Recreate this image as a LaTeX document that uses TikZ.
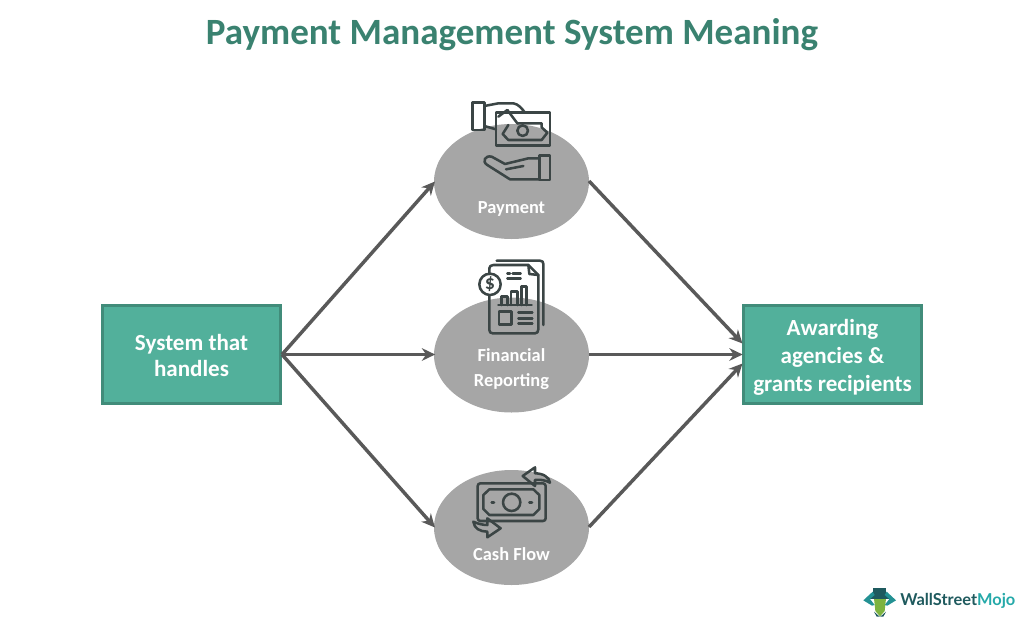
\documentclass[tikz,border=0pt]{standalone}
\usepackage{fontspec}
\setmainfont{Carlito}
\newfontfamily\logofont{Lato}
\usetikzlibrary{shapes.geometric,arrows.meta}
\definecolor{titlecol}{HTML}{3A8270}
\definecolor{boxfill}{HTML}{52B09B}
\definecolor{boxline}{HTML}{418C7A}
\definecolor{ellcol}{HTML}{A6A6A6}
\definecolor{arrowcol}{HTML}{595959}
\definecolor{iconcol}{HTML}{3B4545}
\definecolor{logodark}{HTML}{1F5A5E}
\definecolor{logoteal}{HTML}{25A9A9}
\definecolor{logogreen}{HTML}{7DB33F}
\newcommand{\lowered}[2]{\raisebox{-#1}[0pt][0pt]{\begin{tabular}{@{}c@{}}#2\end{tabular}}}
\tikzset{
 flowbox/.style={draw=boxline,line width=2.25pt,fill=boxfill,minimum width=133.5pt,minimum height=73.5pt,inner sep=0pt,align=center,text=white},
 flowtext/.style={font=\fontsize{17.3}{#1}\selectfont\bfseries},
 oval/.style={ellipse,fill=ellcol,minimum width=116.25pt,minimum height=86.25pt,inner sep=0pt},
 ovaltext/.style={text=white,font=\fontsize{13.8}{19}\selectfont\bfseries,align=center,inner sep=0pt},
 flow/.style={draw=arrowcol,line width=2.6pt,-{Stealth[length=10pt,width=9.5pt]},shorten >=-0.5pt},
 icon/.style={draw=iconcol,line width=1.9pt,line join=round,line cap=round},
}
\begin{document}
\begin{tikzpicture}[x=.75pt,y=-.75pt]
\useasboundingbox (0,0) rectangle (1024,625);
\node[text=titlecol,font=\fontsize{27.8}{30}\selectfont\bfseries,inner sep=0pt] (title) at (512,34.5) {Payment Management System Meaning};
\node[oval] (pay) at (511.5,181.5) {};
\node[oval] (fin) at (511.5,355) {};
\node[oval] (cash) at (511.5,527.5) {};
\node[flowbox,flowtext=19.6] (src) at (191.5,354.5) {\lowered{7.2pt}{System that\\handles}};
\node[flowbox,flowtext=21] (dst) at (832.5,354.5) {\lowered{7pt}{Awarding\\agencies \&\\grants recipients}};
\coordinate (dsttop) at (742,343);
\coordinate (dstmid) at (742,354.5);
\coordinate (dstbot) at (742,364);
\coordinate (payin) at (434.5,182);
\coordinate (finin) at (434.5,354.5);
\coordinate (cashin) at (434.5,527);
\coordinate (payout) at (589,181);
\coordinate (finout) at (589,354.5);
\coordinate (cashout) at (589,527);
\draw[flow] (src.east) -- (payin);
\draw[flow] (src.east) -- (finin);
\draw[flow] (src.east) -- (cashin);
\draw[flow] (payout) -- (dsttop);
\draw[flow] (finout) -- (dstmid);
\draw[flow] (cashout) -- (dstbot);
\node[ovaltext] (paylab) at (511.5,208.5) {Payment};
\node[ovaltext] (finlab) at (511.5,369) {Financial\\Reporting};
\node[ovaltext] (cashlab) at (511.5,554.5) {Cash Flow};
% payment icon
\begin{scope}[shift={(430,90)},x=.25pt,y=-.25pt,icon]
\draw (128,38) rectangle (163,120);
\draw (163,48) -- (205,40) -- (250,40) .. controls (265,42) and (275,55) .. (285,68);
\draw (163,108) -- (198,118);
\draw (232,60) -- (262,100);
\draw (205,80) -- (232,60);
\draw (198,68) rectangle (360,167);
\draw (262,100) -- (335,100) -- (335,112) -- (352,128) -- (335,150) -- (235,150) -- (218,132) -- (235,105);
\draw (278,122) circle (16);
\draw (328,197) rectangle (360,270);
\draw (328,205) -- (295,205) -- (225,222) -- (185,200) .. controls (165,195) and (155,215) .. (172,225) -- (240,268) -- (328,268);
\draw (228,238) -- (280,228);
\end{scope}
% report icon
\begin{scope}[shift={(430,250)},x=.25pt,y=-.25pt,icon]
\draw (200,32) -- (330,32) .. controls (337,32) and (340,36) .. (340,42) -- (340,225);
\draw (178,72) -- (178,55) .. controls (178,49) and (183,45) .. (190,45) -- (295,45) -- (325,75) -- (325,238) .. controls (325,246) and (321,250) .. (315,250) -- (188,250) .. controls (182,250) and (178,246) .. (178,240) -- (178,137);
\draw (295,45) -- (298,72) -- (325,75);
\draw (180,103) circle (32);
\node[text=iconcol,font=\fontsize{15}{15}\selectfont\bfseries,inner sep=0pt] (dollar) at (180,103) {\$};
\draw (232,70) -- (240,70) (248,70) -- (272,70) (232,85) -- (272,85);
\draw (205,165) -- (305,165);
\draw (214,165) -- (214,140) -- (232,140) -- (232,165);
\draw (243,165) -- (243,125) -- (262,125) -- (262,165);
\draw (275,165) -- (275,110) -- (290,110) -- (290,165);
\draw (207,185) rectangle (245,223);
\draw (265,187) -- (307,187) (265,205) -- (307,205) (265,220) -- (307,220);
\end{scope}
% cash icon
\begin{scope}[shift={(430,460)},x=.25pt,y=-.25pt,icon]
\draw[rounded corners=2pt] (143,70) rectangle (347,183);
\draw (178,88) -- (310,88) -- (328,105) -- (328,147) -- (310,165) -- (178,165) -- (160,147) -- (160,105) -- cycle;
\draw (245,127) circle (26);
\draw (185,127) -- (192,127) (298,127) -- (306,127);
\draw (278,48) -- (315,22) -- (315,40) .. controls (340,40) and (358,52) .. (360,68) .. controls (345,60) and (330,58) .. (315,60) -- (315,78) -- cycle;
\draw (212,205) -- (172,232) -- (172,215) .. controls (150,215) and (132,205) .. (130,185) .. controls (145,192) and (160,195) .. (172,195) -- (172,175) -- cycle;
\end{scope}
% logo
\begin{scope}[shift={(850,575)},x=.25pt,y=-.25pt]
\fill[logogreen] (72,70) -- (108,70) -- (104,108) -- (90,124) -- (76,108) -- cycle;
\fill[logodark] (70,40) rectangle (108,66);
\fill[logodark] (58,64) rectangle (120,71);
\fill[logodark] (72,110) -- (90,126) -- (108,110) -- (100,125) -- (80,125) -- cycle;
\fill[logoteal!70!logodark] (40,76) -- (68,50) -- (74,60) -- (60,72) -- (74,90) -- (66,92) -- cycle;
\fill[logoteal!70!logodark] (138,76) -- (110,50) -- (104,60) -- (118,72) -- (104,90) -- (112,92) -- cycle;
\end{scope}
\node[anchor=west,inner sep=0pt,font=\fontsize{12.3}{14}\logofont\bfseries] (logo) at (900,601) {\textcolor{logodark}{WallStreet}\textcolor{logoteal}{Mojo}};
\end{tikzpicture}
\end{document}
